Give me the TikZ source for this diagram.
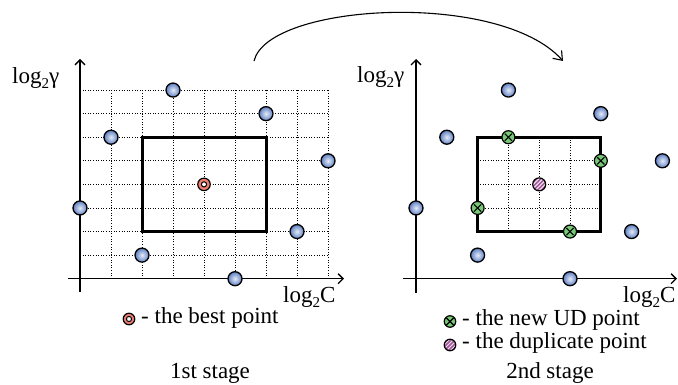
\documentclass[tikz,border=0pt]{standalone}
\usepackage{fontspec}
\setmainfont{Liberation Serif}
\usetikzlibrary{arrows.meta}
\definecolor{ptblue}{HTML}{5E7FC2}
\definecolor{ptlight}{HTML}{E6ECF8}
\definecolor{ptred}{HTML}{EE7F72}
\definecolor{ptgreen}{HTML}{78C878}
\definecolor{ptpurple}{HTML}{9E5A98}
\definecolor{ptpink}{HTML}{F2DDEF}
\begin{document}
\begin{tikzpicture}[x=1pt,y=-1pt,
  txt/.style={font=\fontsize{23}{27}\selectfont, inner sep=0pt},
  gridln/.style={line width=0.8pt, dash pattern=on 1pt off 1.6pt},
  boxln/.style={line width=3pt, line join=miter},
  axisln/.style={line width=1.3pt, -{Straight Barb[length=5pt,width=10pt,line width=1.3pt]}},
  bluept/.style={circle, draw=black, line width=1.3pt, minimum size=14pt, inner sep=0pt,
    shading=radial, inner color=ptlight, outer color=ptblue},
  bestpt/.style={circle, draw=black, line width=1.2pt, minimum size=12.5pt, inner sep=0pt, fill=ptred,
    path picture={\draw[line width=1pt, fill=white] (path picture bounding box.center) circle (2.6pt);}},
  newpt/.style={circle, draw=black, line width=1.2pt, minimum size=13pt, inner sep=0pt, fill=ptgreen,
    path picture={\draw[line width=1.1pt] (path picture bounding box.center) +(-3.6pt,-3.6pt) -- +(3.6pt,3.6pt)
       (path picture bounding box.center) +(-3.6pt,3.6pt) -- +(3.6pt,-3.6pt);}},
  duppt/.style={circle, draw=black, line width=1.2pt, minimum size=13pt, inner sep=0pt, fill=ptpink,
    path picture={\foreach \k in {-8,-4,0,4,8}{\draw[ptpurple, line width=1.5pt] (path picture bounding box.center) +(\k pt-8pt,-8pt) -- +(\k pt+8pt,8pt);}}},
]
\useasboundingbox (0,0) rectangle (678,385);

% grid coordinates
\foreach \i in {0,...,8}{
  \foreach \j in {0,...,8}{
    \coordinate (L\i\j) at ({80+31*\i},{278.7-23.58*\j});
    \coordinate (R\i\j) at ({416+30.8*\i},{278.7-23.58*\j});
  }
}

% left grid
\foreach \i in {1,...,8} \draw[gridln] (L\i0) -- (L\i8);
\foreach \j in {1,...,8} \draw[gridln] (L0\j) -- (L8\j);
% right grid (inside box)
\foreach \i in {3,4,5} \draw[gridln] (R\i2) -- (R\i6);
\foreach \j in {3,4,5} \draw[gridln] (R2\j) -- (R6\j);

% boxes
\draw[boxln] (L22) rectangle (L66);
\draw[boxln] (R22) rectangle (R66);

% axes
\coordinate (LYb) at (80,292);
\coordinate (LYt) at (80,59);
\coordinate (LXl) at (68,278.7);
\coordinate (LXr) at (344,278.7);
\coordinate (RYb) at (416,293);
\coordinate (RYt) at (416,59);
\coordinate (RXl) at (403,278.7);
\coordinate (RXr) at (677,278.7);
\draw[axisln] (LYb) -- (LYt);
\draw[axisln] (LXl) -- (LXr);
\draw[axisln] (RYb) -- (RYt);
\draw[axisln] (RXl) -- (RXr);

% axis labels
\node[txt, anchor=base west] (lgl) at (12,84) {log\raisebox{-5pt}{\fontsize{15}{15}\selectfont 2}γ};
\node[txt, anchor=base west] (lgr) at (357,83) {log\raisebox{-5pt}{\fontsize{15}{15}\selectfont 2}γ};
\node[txt, anchor=base west] (lcl) at (283,302) {log\raisebox{-5pt}{\fontsize{15}{15}\selectfont 2}C};
\node[txt, anchor=base west] (lcr) at (623,302) {log\raisebox{-5pt}{\fontsize{15}{15}\selectfont 2}C};

% left points
\node[bluept] (l1) at (L38) {};
\node[bluept] (l2) at (L67) {};
\node[bluept] (l3) at (L16) {};
\node[bluept] (l4) at (L85) {};
\node[bluept] (l5) at (L03) {};
\node[bluept] (l6) at (L72) {};
\node[bluept] (l7) at (L21) {};
\node[bluept] (l8) at (L50) {};
\node[bestpt] (lbest) at (L44) {};

% right points
\node[bluept] (r1) at (R38) {};
\node[bluept] (r2) at (R67) {};
\node[bluept] (r3) at (R16) {};
\node[bluept] (r4) at (R85) {};
\node[bluept] (r5) at (R03) {};
\node[bluept] (r6) at (R72) {};
\node[bluept] (r7) at (R21) {};
\node[bluept] (r8) at (R50) {};
\node[newpt] (g1) at (R36) {};
\node[newpt] (g2) at (R65) {};
\node[newpt] (g3) at (R23) {};
\node[newpt] (g4) at (R52) {};
\node[duppt] (dup) at (R44) {};

% legends
\node[bestpt, minimum size=11.5pt] (legbest) at (129,319) {};
\node[txt, anchor=base west] (legbesttxt) at (141,323) {- the best point};
\node[newpt, minimum size=11.5pt] (legnew) at (450,321.5) {};
\node[txt, anchor=base west] (legnewtxt) at (462,325) {- the new UD point};
\node[duppt, minimum size=11.5pt] (legdup) at (450,345) {};
\node[txt, anchor=base west] (legduptxt) at (462,348.5) {- the duplicate point};

% stage labels
\node[txt, anchor=base] (st1) at (210,378) {1st stage};
\node[txt, anchor=base] (st2) at (550,378) {2nd stage};

% curved arrow
\coordinate (as) at (254,61);
\coordinate (ae) at (563,61);
\draw[line width=1.1pt, -{Straight Barb[length=8pt,width=12pt,line width=1.1pt]}]
  (as) .. controls (268,3) and (500,-10) .. (ae);
\end{tikzpicture}
\end{document}
